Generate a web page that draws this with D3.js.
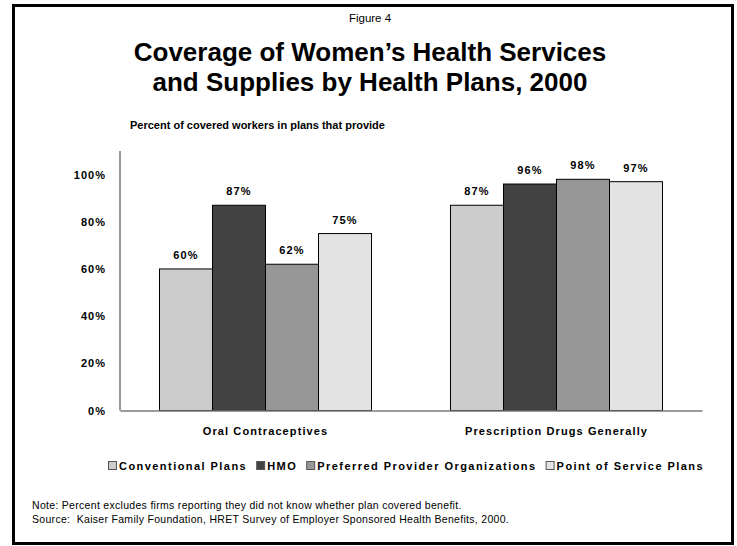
<!DOCTYPE html>
<html>
<head>
<meta charset="utf-8">
<script src="https://cdn.jsdelivr.net/npm/d3@7"></script>
<style>
  body { margin: 0; background: #fff; }
  svg { display: block; font-family: Arial, "Liberation Sans", sans-serif; }
</style>
</head>
<body>
<svg id="chart" width="737" height="546"></svg>
<script>
const categories = ["Oral Contraceptives", "Prescription Drugs Generally"];
const plans = ["Conventional Plans", "HMO", "Preferred Provider Organizations", "Point of Service Plans"];
const conventional = [60, 87];
const hmo = [87, 96];
const ppo = [62, 98];
const pos = [75, 97];
const yTicks = [0, 20, 40, 60, 80, 100];
const colors = ["#cccccc", "#424242", "#979797", "#e3e3e3"];

const series = [conventional, hmo, ppo, pos];

const svg = d3.select("#chart");

// frame
svg.append("rect")
    .attr("x", 13.5).attr("y", 5.5)
    .attr("width", 719).attr("height", 538)
    .attr("fill", "none").attr("stroke", "#000").attr("stroke-width", 3);

svg.append("text")
    .attr("x", 370).attr("y", 22)
    .attr("text-anchor", "middle")
    .attr("font-size", 11.5)
    .text("Figure 4");

const titleLines = ["Coverage of Women\u2019s Health Services", "and Supplies by Health Plans, 2000"];
svg.selectAll(".title")
    .data(titleLines)
    .enter().append("text")
    .attr("class", "title")
    .attr("x", 370)
    .attr("y", (d, i) => 61 + i * 30)
    .attr("text-anchor", "middle")
    .attr("font-size", 26)
    .attr("font-weight", "bold")
    .text(d => d);

svg.append("text")
    .attr("x", 130).attr("y", 129)
    .attr("font-size", 11)
    .attr("font-weight", "bold")
    .text("Percent of covered workers in plans that provide");

const plotLeft = 120, plotRight = 702, plotTop = 151, plotBottom = 410.5;

const x0 = d3.scaleBand()
    .domain(categories)
    .range([plotLeft, plotRight]);

const x1 = d3.scaleBand()
    .domain(plans)
    .range([0, x0.bandwidth()])
    .paddingOuter(0.745);

const y = d3.scaleLinear()
    .domain([0, 110])
    .range([plotBottom, plotTop]);

const g = svg.append("g");

// bars
categories.forEach((cat, ci) => {
    const grp = g.append("g").attr("transform", `translate(${x0(cat)},0)`);
    grp.selectAll("rect")
        .data(plans)
        .enter().append("rect")
        .attr("x", d => x1(d))
        .attr("y", (d, i) => y(series[i][ci]))
        .attr("width", x1.bandwidth())
        .attr("height", (d, i) => y(0) - y(series[i][ci]))
        .attr("fill", (d, i) => colors[i])
        .attr("stroke", "#000")
        .attr("stroke-width", 1);

    grp.selectAll("text")
        .data(plans)
        .enter().append("text")
        .attr("x", d => x1(d) + x1.bandwidth() / 2)
        .attr("y", (d, i) => y(series[i][ci]) - 10)
        .attr("text-anchor", "middle")
        .attr("font-size", 11)
        .attr("font-weight", "bold")
        .attr("letter-spacing", 1.2)
        .text((d, i) => series[i][ci] + "%");
});

// y axis
const yAxis = g.append("g")
    .attr("transform", `translate(${plotLeft},0)`)
    .call(d3.axisLeft(y).tickValues(yTicks).tickSize(0).tickPadding(14).tickFormat(d => d + "%"));
yAxis.select(".domain").attr("stroke", "#333").attr("d", `M0,${plotTop}V${plotBottom}`);
yAxis.selectAll("text")
    .attr("font-size", 11)
    .attr("font-weight", "bold")
    .attr("font-family", "Arial, 'Liberation Sans', sans-serif")
    .attr("letter-spacing", 1)
    .attr("fill", "#000");

// x axis
const xAxis = g.append("g")
    .attr("transform", `translate(0,${plotBottom})`)
    .call(d3.axisBottom(x0).tickSize(0).tickPadding(17));
xAxis.select(".domain").attr("stroke", "#7a7a7a").attr("stroke-width", 1.5);
xAxis.selectAll("text")
    .attr("font-size", 11)
    .attr("font-weight", "bold")
    .attr("font-family", "Arial, 'Liberation Sans', sans-serif")
    .attr("letter-spacing", 1.1)
    .attr("fill", "#000");

// legend
const legend = svg.append("g").attr("transform", "translate(0,470)");
let lx = 108;
plans.forEach((p, i) => {
    legend.append("rect")
        .attr("x", lx + 0.5).attr("y", -8.5)
        .attr("width", 8).attr("height", 8)
        .attr("fill", colors[i])
        .attr("stroke", "#555").attr("stroke-width", 1);
    const t = legend.append("text")
        .attr("x", lx + 11).attr("y", 0)
        .attr("font-size", 11)
        .attr("font-weight", "bold")
        .attr("letter-spacing", 1.45)
        .text(p);
    lx += 11 + t.node().getComputedTextLength() + 9;
});

// notes
const notes = [
    "Note: Percent excludes firms reporting they did not know whether plan covered benefit.",
    "Source:  Kaiser Family Foundation, HRET Survey of Employer Sponsored Health Benefits, 2000."
];
svg.selectAll(".note")
    .data(notes)
    .enter().append("text")
    .attr("class", "note")
    .attr("x", 32)
    .attr("y", (d, i) => 509 + i * 13.5)
    .attr("font-size", 10.5)
    .attr("letter-spacing", 0.3)
    .style("white-space", "pre")
    .text(d => d);
</script>
</body>
</html>
